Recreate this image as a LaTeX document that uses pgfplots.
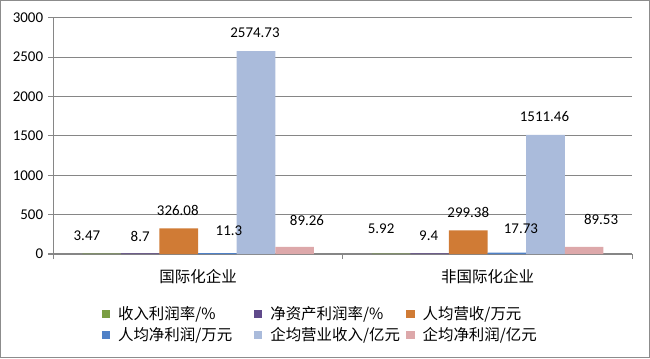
\documentclass[border=0pt]{standalone}
\usepackage{fontspec}
\setmainfont{Carlito}
\newfontfamily\cjk{Noto Sans CJK SC}
\usepackage{pgfplots}
\usepackage{pgfplotstable}
\pgfplotsset{compat=1.18}
\definecolor{cg}{RGB}{122,158,67}
\definecolor{cp}{RGB}{96,74,139}
\definecolor{co}{RGB}{208,123,53}
\definecolor{cb}{RGB}{79,129,199}
\definecolor{cl}{RGB}{170,187,219}
\definecolor{cr}{RGB}{221,168,170}
\definecolor{gridgray}{RGB}{134,134,134}
\definecolor{framegray}{RGB}{140,140,140}

\pgfplotstableread{
x y dx dy lab
0 3.47 -11 13.5 3.47
1 5.92 -7.5 18.4 5.92
}\sA
\pgfplotstableread{
x y dx dy lab
0 8.7 0 12.75 8.7
1 9.4 -0.75 13.2 9.4
}\sB
\pgfplotstableread{
x y dx dy lab
0 326.08 -0.75 13.5 326.08
1 299.38 0 13.5 299.38
}\sC
\pgfplotstableread{
x y dx dy lab
0 11.3 8.7 16.5 11.3
1 17.73 10.5 18 17.73
}\sD
\pgfplotstableread{
x y dx dy lab
0 2574.73 -0.75 13.9 2574.73
1 1511.46 -0.75 13.5 1511.46
}\sE
\pgfplotstableread{
x y dx dy lab
0 89.26 9.3 20.25 89.26
1 89.53 12.75 20.25 89.53
}\sF

\newcommand{\cjkf}{\cjk\fontsize{11.6}{13}\selectfont}
\newcommand{\lentry}[1]{\hspace*{6pt}\makebox[102pt][l]{\rule[-3pt]{0pt}{11pt}\cjkf #1}}

\begin{document}
\fontsize{11.2}{13}\selectfont
\begin{tikzpicture}
\useasboundingbox (-40pt,-78pt) rectangle (447.5pt,190.5pt);
\draw[framegray, line width=0.75pt] (-39.6pt,-77.6pt) rectangle (447.1pt,190.1pt);
\begin{axis}[
  at={(0,0)}, anchor=south west,
  scale only axis, width=434.25pt, height=177.2pt,
  ybar=0pt, bar width=28.95pt,
  xmin=-0.5, xmax=1.5, ymin=0, ymax=3000,
  axis x line*=bottom, axis y line*=left,
  axis line style={-, draw=gridgray, line width=0.9pt},
  ytick={0,500,...,3000},
  ymajorgrids, grid style={gridgray, line width=0.9pt},
  tick align=outside, major tick length=3.75pt,
  ytick style={draw=gridgray, line width=0.9pt},
  xtick={0,1},
  xticklabels={{\cjkf 国际化企业},{\cjkf 非国际化企业}},
  xtick style={draw=none},
  extra x ticks={-0.5,0.5,1.5},
  extra x tick labels={},
  extra x tick style={grid=none, xtick style={draw=gridgray, line width=0.9pt}},
  xticklabel style={yshift=-4pt},
  /pgf/number format/assume math mode=true,
  scaled y ticks=false,
  y tick label style={/pgf/number format/1000 sep={}},
  point meta=explicit symbolic,
  nodes near coords={\pgfplotspointmeta},
  visualization depends on={\thisrow{dx} \as \dx},
  visualization depends on={\thisrow{dy} \as \dy},
  nodes near coords style={anchor=center, xshift=\dx pt, yshift=\dy pt, black, inner sep=0pt},
  legend columns=3,
  legend style={draw=none, fill=none, at={(0.0832,-0.222)}, anchor=north west,
    column sep=0pt, inner sep=0pt, row sep=3.8pt, nodes={inner sep=0pt}},
  legend cell align=left,
  legend image code/.code={\fill[#1] (0pt,-3pt) rectangle (6.2pt,3.2pt);},
]
\addplot[fill=cg, draw=none] table[x=x, y=y, meta=lab] {\sA};
\addlegendentry{\lentry{收入利润率/\%}}
\addplot[fill=cp, draw=none] table[x=x, y=y, meta=lab] {\sB};
\addlegendentry{\lentry{净资产利润率/\%}}
\addplot[fill=co, draw=none] table[x=x, y=y, meta=lab] {\sC};
\addlegendentry{\lentry{人均营收/万元}}
\addplot[fill=cb, draw=none] table[x=x, y=y, meta=lab] {\sD};
\addlegendentry{\lentry{人均净利润/万元}}
\addplot[fill=cl, draw=none] table[x=x, y=y, meta=lab] {\sE};
\addlegendentry{\lentry{企均营业收入/亿元}}
\addplot[fill=cr, draw=none] table[x=x, y=y, meta=lab] {\sF};
\addlegendentry{\lentry{企均净利润/亿元}}
\end{axis}
\end{tikzpicture}
\end{document}
